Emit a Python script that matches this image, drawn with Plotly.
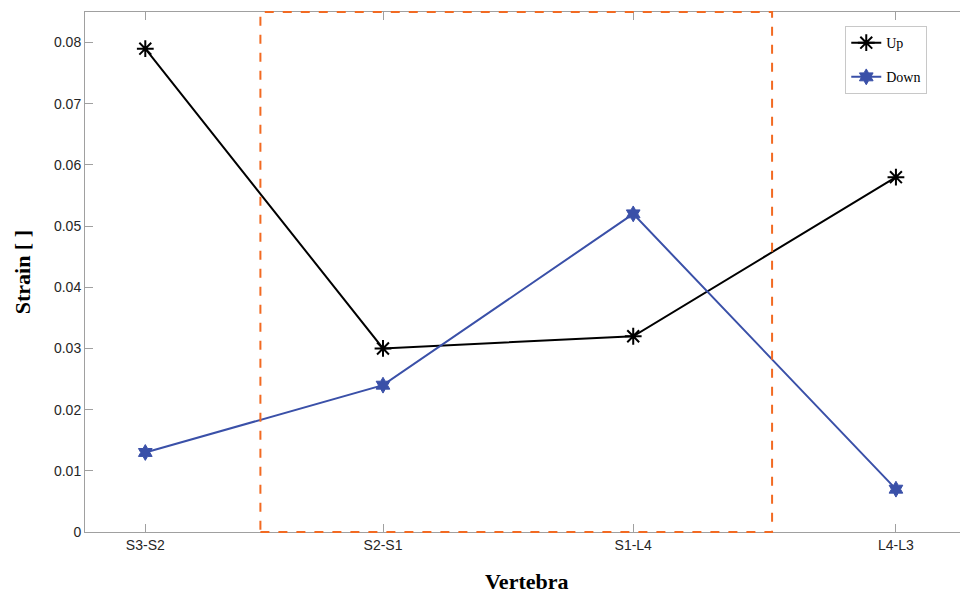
import plotly.graph_objects as go

categories = ["S3-S2", "S2-S1", "S1-L4", "L4-L3"]
x_positions = [0, 0.95, 1.95, 3]
up_values = [0.079, 0.030, 0.032, 0.058]
down_values = [0.013, 0.024, 0.052, 0.007]
y_ticks = [0, 0.01, 0.02, 0.03, 0.04, 0.05, 0.06, 0.07, 0.08]
y_tick_labels = ["0", "0.01", "0.02", "0.03", "0.04", "0.05", "0.06", "0.07", "0.08"]
highlight_x = [0.46, 2.505]

serif = "Liberation Serif, Times New Roman, serif"
sans = "Liberation Sans, Arial, Helvetica, sans-serif"
axis_gray = "#a0a0a0"

fig = go.Figure()
fig.add_trace(go.Scatter(
    x=x_positions, y=up_values, name="Up", mode="lines+markers",
    line=dict(color="black", width=2),
    marker=dict(symbol="asterisk-open", size=14, color="black",
                line=dict(color="black", width=2)),
    legendgroup="a",
))
fig.add_trace(go.Scatter(
    x=x_positions, y=down_values, name="Down", mode="lines+markers",
    line=dict(color="#3a50a8", width=2),
    marker=dict(symbol="hexagram", size=12, color="#3a50a8",
                line=dict(color="#3a50a8", width=1)),
    legendgroup="b",
))

fig.add_shape(type="rect", xref="x", yref="paper",
              x0=highlight_x[0], x1=highlight_x[1], y0=0, y1=1,
              line=dict(color="#f26a22", width=2, dash="dash"),
              fillcolor="rgba(0,0,0,0)", layer="above")

fig.add_annotation(text="<b>Vertebra</b>", xref="paper", yref="paper",
                   x=0.5, y=-0.096, xanchor="center", yanchor="middle",
                   showarrow=False, font=dict(family=serif, size=22, color="black"))
fig.add_annotation(text="<b>Strain [ ]</b>", xref="paper", yref="paper",
                   x=-0.071, y=0.5, xanchor="center", yanchor="middle", textangle=-90,
                   showarrow=False, font=dict(family=serif, size=22, color="black"))

# page body has an 8px default margin, so the figure is sized/offset to compensate
fig.update_layout(
    width=960, height=589,
    margin=dict(l=77, r=0, t=4, b=65, autoexpand=False),
    paper_bgcolor="white", plot_bgcolor="white",
    showlegend=True,
    legend=dict(
        x=0.861, y=0.973, xanchor="left", yanchor="top",
        bgcolor="white", bordercolor="#c8c8c8", borderwidth=1,
        font=dict(family=serif, size=14, color="black"),
        tracegroupgap=13, itemwidth=30,
    ),
    xaxis=dict(
        range=[-0.241, 3.288], automargin=False,
        tickmode="array", tickvals=x_positions, ticktext=categories,
        ticks="inside", ticklen=8, tickcolor=axis_gray,
        showline=True, linecolor=axis_gray, linewidth=1, mirror="ticks",
        showgrid=False, zeroline=False,
        tickfont=dict(family=sans, size=14, color="#262626"),
    ),
    yaxis=dict(
        range=[0, 0.085], automargin=False,
        tickmode="array", tickvals=y_ticks, ticktext=y_tick_labels,
        ticks="inside", ticklen=8, tickcolor=axis_gray,
        showline=True, linecolor=axis_gray, linewidth=1, mirror=False,
        showgrid=False, zeroline=False,
        tickfont=dict(family=sans, size=14, color="#262626"),
    ),
)

fig.write_html("out.html")
